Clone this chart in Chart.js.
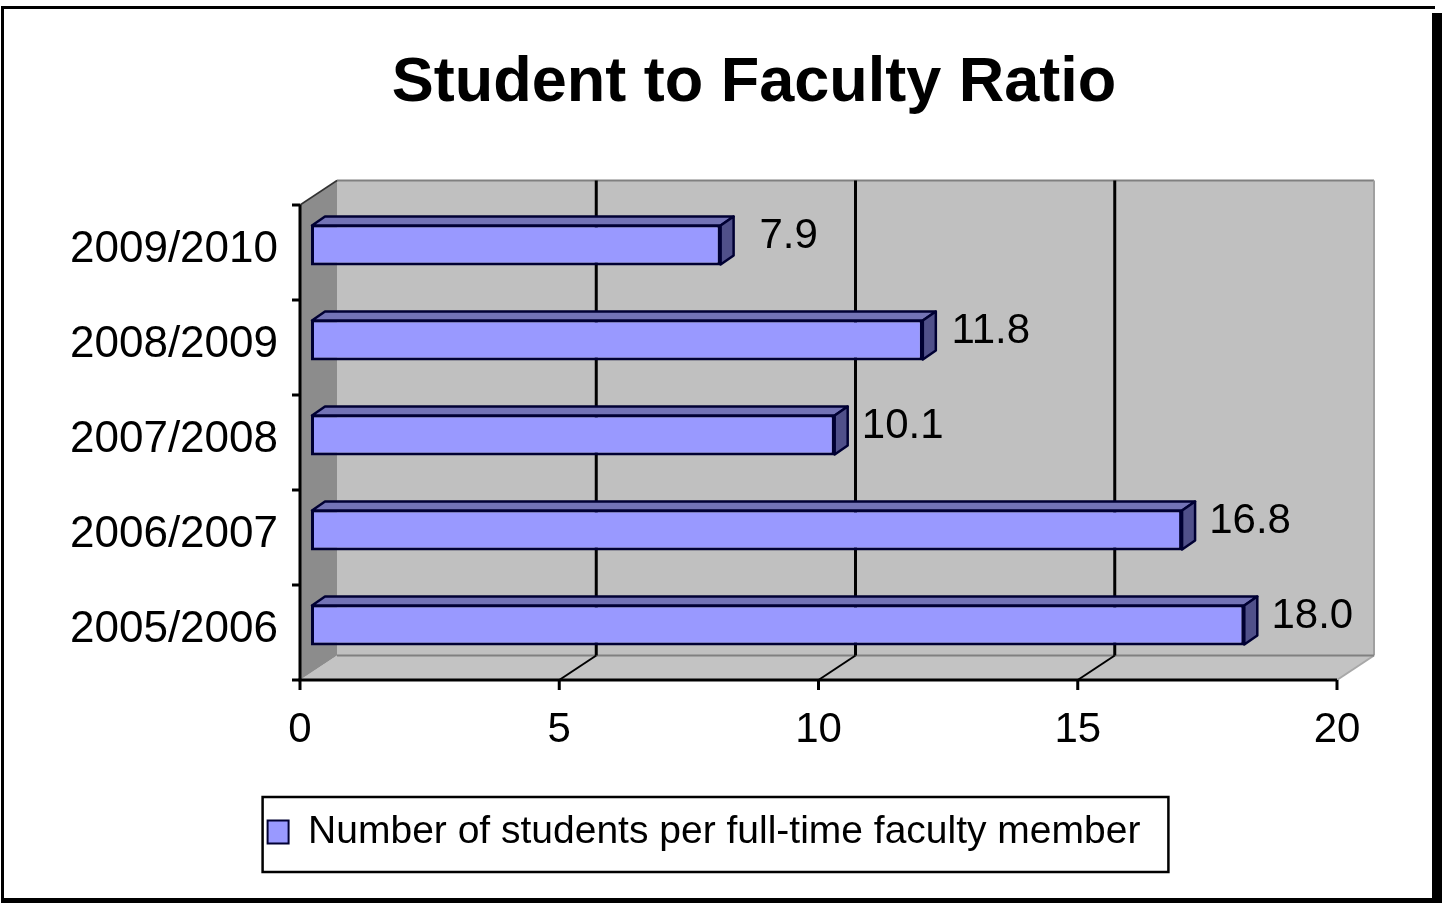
<!DOCTYPE html>
<html>
<head>
<meta charset="utf-8">
<script src="https://cdn.jsdelivr.net/npm/chart.js@4/dist/chart.umd.min.js"></script>
<style>
html,body{margin:0;padding:0;background:#fff;overflow:hidden;}
canvas{display:block;}
</style>
</head>
<body>
<canvas id="c" width="1442" height="903"></canvas>
<script>
// ---- data ----
const chartTitle = 'Student to Faculty Ratio';
const seriesLabel = 'Number of students per full-time faculty member';
const categories = ['2005/2006', '2006/2007', '2007/2008', '2008/2009', '2009/2010'];
const values = [18.0, 16.8, 10.1, 11.8, 7.9];
const xTickLabels = [0, 5, 10, 15, 20];

// ---- style ----
const FONT = "'Liberation Sans', Arial, sans-serif";
const FRONT = {dx: -11, dy: 7.5};   // front edge of the 3D box relative to bar plane
const BACK = {dx: 26, dy: -17};     // back wall relative to bar plane
const BAR_DEPTH = {dx: 13, dy: -9};
const BAR_FRONT = '#9999ff', BAR_TOP = '#7373b6', BAR_SIDE = '#50508a', BAR_EDGE = '#000033';
const TITLE_SHIFT = 100;

function poly(ctx, pts, fill, stroke, lw) {
  ctx.beginPath();
  ctx.moveTo(pts[0][0], pts[0][1]);
  for (let i = 1; i < pts.length; i++) ctx.lineTo(pts[i][0], pts[i][1]);
  ctx.closePath();
  if (fill) { ctx.fillStyle = fill; ctx.fill(); }
  if (stroke) { ctx.strokeStyle = stroke; ctx.lineWidth = lw; ctx.stroke(); }
}
function line(ctx, x1, y1, x2, y2, color, lw) {
  ctx.beginPath(); ctx.moveTo(x1, y1); ctx.lineTo(x2, y2);
  ctx.strokeStyle = color; ctx.lineWidth = lw; ctx.stroke();
}

const scene3d = {
  id: 'scene3d',
  afterLayout(chart) {
    if (chart.titleBlock) chart.titleBlock.left += TITLE_SHIFT;
  },
  beforeDraw(chart) {
    const {ctx, width, height} = chart;
    ctx.save();
    ctx.fillStyle = '#fff';
    ctx.fillRect(0, 0, width, height);
    ctx.fillStyle = '#000';
    ctx.fillRect(2, 6, 1433, 3);
    ctx.fillRect(1, 6, 3, 896);
    ctx.fillRect(1432, 13, 10, 890);
    ctx.fillRect(1, 898, 1441, 5);
    ctx.restore();
  },
  beforeDatasetsDraw(chart) {
    const {ctx, chartArea: {top, bottom}, scales: {x, y}} = chart;
    const x0 = x.getPixelForValue(x.min), x1 = x.getPixelForValue(x.max);
    ctx.save();
    ctx.lineCap = 'butt';
    // floor
    poly(ctx, [[x0 + FRONT.dx, bottom + FRONT.dy], [x1 + FRONT.dx, bottom + FRONT.dy],
               [x1 + BACK.dx, bottom + BACK.dy], [x0 + BACK.dx, bottom + BACK.dy]], '#c3c3c3');
    line(ctx, x1 + FRONT.dx, bottom + FRONT.dy, x1 + BACK.dx, bottom + BACK.dy, '#a8a8a8', 2);
    // back wall
    poly(ctx, [[x0 + BACK.dx, top + BACK.dy], [x1 + BACK.dx, top + BACK.dy],
               [x1 + BACK.dx, bottom + BACK.dy], [x0 + BACK.dx, bottom + BACK.dy]], '#c0c0c0');
    line(ctx, x0 + BACK.dx, top + BACK.dy, x1 + BACK.dx, top + BACK.dy, '#808080', 2);
    line(ctx, x1 + BACK.dx, top + BACK.dy, x1 + BACK.dx, bottom + BACK.dy, '#a0a0a0', 2);
    line(ctx, x0 + BACK.dx, bottom + BACK.dy, x1 + BACK.dx, bottom + BACK.dy, '#808080', 2);
    // side wall
    poly(ctx, [[x0 + FRONT.dx, top + FRONT.dy], [x0 + BACK.dx, top + BACK.dy],
               [x0 + BACK.dx, bottom + BACK.dy], [x0 + FRONT.dx, bottom + FRONT.dy]], '#8c8c8c');
    line(ctx, x0 + FRONT.dx, top + FRONT.dy, x0 + BACK.dx, top + BACK.dy, '#333', 1.5);
    // gridlines on wall and floor
    x.ticks.forEach(t => {
      if (t.value <= x.min || t.value >= x.max) return;
      const px = x.getPixelForValue(t.value);
      line(ctx, px + BACK.dx, top + BACK.dy, px + BACK.dx, bottom + BACK.dy, '#000', 3);
      line(ctx, px + BACK.dx, bottom + BACK.dy, px + FRONT.dx, bottom + FRONT.dy, '#000', 2);
    });
    // front value axis
    line(ctx, x0 + FRONT.dx - 1.5, bottom + FRONT.dy, x1 + FRONT.dx, bottom + FRONT.dy, '#000', 3);
    x.ticks.forEach(t => {
      const px = x.getPixelForValue(t.value) + FRONT.dx;
      line(ctx, px, bottom + FRONT.dy, px, bottom + FRONT.dy + 10, '#000', 3);
    });
    // front category axis
    line(ctx, x0 + FRONT.dx, top + FRONT.dy, x0 + FRONT.dx, bottom + FRONT.dy, '#000', 3);
    const n = y.ticks.length;
    for (let i = 0; i <= n; i++) {
      const py = top + (bottom - top) * i / n + FRONT.dy;
      line(ctx, x0 + FRONT.dx - 8, py, x0 + FRONT.dx, py, '#000', 3);
    }
    ctx.restore();
  },
  afterDatasetsDraw(chart) {
    const {ctx} = chart;
    const meta = chart.getDatasetMeta(0);
    const data = chart.data.datasets[0].data;
    ctx.save();
    ctx.lineJoin = 'round';
    meta.data.forEach((bar, i) => {
      const {x: xe, y: yc, base, height: h} = bar.getProps(['x', 'y', 'base', 'height'], true);
      const yt = yc - h / 2 + 1, yb = yc + h / 2 - 1;
      const d = BAR_DEPTH;
      poly(ctx, [[base + 1, yt], [xe, yt], [xe + d.dx, yt + d.dy], [base + 1 + d.dx, yt + d.dy]], BAR_TOP, BAR_EDGE, 2.5);
      poly(ctx, [[xe, yt], [xe + d.dx, yt + d.dy], [xe + d.dx, yb + d.dy], [xe, yb]], BAR_SIDE, BAR_EDGE, 2.5);
      ctx.fillStyle = '#000';
      ctx.font = '42px ' + FONT;
      ctx.textAlign = 'center';
      ctx.textBaseline = 'middle';
      ctx.fillText(Number(data[i]).toFixed(1), xe + 68, yc - 9);
    });
    ctx.restore();
  },
  afterDraw(chart) {
    const lg = chart.legend;
    if (!lg || !lg.legendHitBoxes || !lg.legendHitBoxes.length) return;
    const hb = lg.legendHitBoxes[0];
    const {ctx} = chart;
    ctx.save();
    ctx.strokeStyle = '#000';
    ctx.lineWidth = 2.5;
    const l = hb.left - 5, t = hb.top - 15.5, r = hb.left + hb.width + 28, b = hb.top + hb.height + 20.5;
    ctx.strokeRect(l, t, r - l, b - t);
    ctx.restore();
  }
};

Chart.defaults.color = '#000';
Chart.defaults.font.family = FONT;

new Chart(document.getElementById('c'), {
  type: 'bar',
  data: {
    labels: categories,
    datasets: [{
      label: seriesLabel,
      data: values,
      backgroundColor: BAR_FRONT,
      borderColor: BAR_EDGE,
      borderWidth: 3,
      borderSkipped: false,
      barPercentage: 0.43,
      categoryPercentage: 1.0
    }]
  },
  options: {
    indexAxis: 'y',
    responsive: false,
    devicePixelRatio: 1,
    animation: false,
    events: [],
    layout: {padding: {top: 46, left: 60, right: 94, bottom: 41.5}},
    scales: {
      x: {
        min: xTickLabels[0],
        max: xTickLabels[xTickLabels.length - 1],
        afterBuildTicks: s => { s.ticks = xTickLabels.map(v => ({value: v})); },
        afterFit: s => { s.height = 130; },
        grid: {display: false, drawTicks: false},
        border: {display: false},
        ticks: {font: {size: 42}, color: '#000', padding: 33, labelOffset: -11, maxRotation: 0, autoSkip: false}
      },
      y: {
        reverse: true,
        afterFit: s => { s.width = 251; },
        grid: {display: false, drawTicks: false},
        border: {display: false},
        ticks: {font: {size: 44}, color: '#000', padding: 33, labelOffset: 5, autoSkip: false}
      }
    },
    plugins: {
      tooltip: {enabled: false},
      title: {
        display: true,
        text: chartTitle,
        color: '#000',
        font: {size: 63, weight: 'bold', family: FONT},
        padding: {top: 0, bottom: 75.9}
      },
      legend: {
        display: true,
        position: 'bottom',
        align: 'center',
        labels: {
          boxWidth: 21,
          boxHeight: 23,
          padding: 10,
          color: '#000',
          font: {size: 39, family: FONT},
          generateLabels: () => [{
            text: seriesLabel, fillStyle: BAR_FRONT, strokeStyle: BAR_EDGE,
            lineWidth: 2, hidden: false, datasetIndex: 0
          }]
        }
      }
    }
  },
  plugins: [scene3d]
});
</script>
</body>
</html>
